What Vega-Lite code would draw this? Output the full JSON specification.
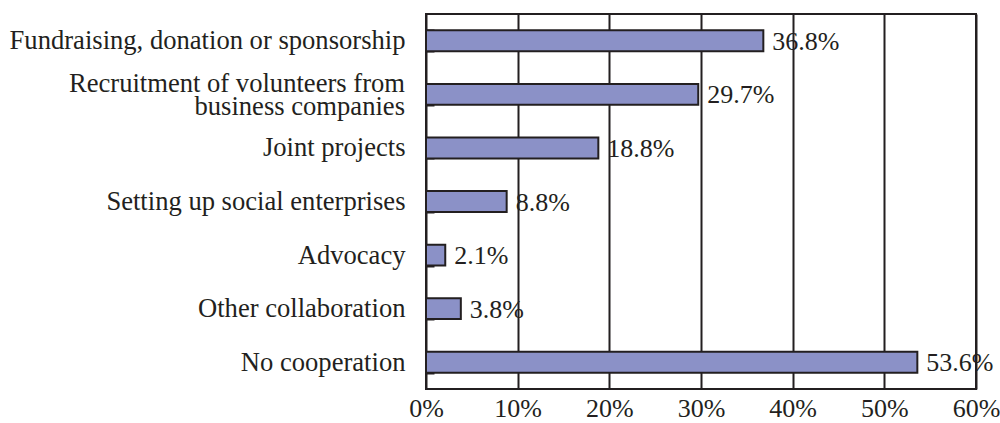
{
  "$schema": "https://vega.github.io/schema/vega-lite/v6.json",
  "width": 550,
  "height": 375,
  "autosize": {"type": "none"},
  "padding": {"left": 426, "top": 14, "right": 24, "bottom": 34},
  "background": "white",
  "config": {
    "view": {"stroke": "#231f20", "strokeWidth": 2},
    "font": "Liberation Serif"
  },
  "data": {
    "values": [
      {"category": "Fundraising, donation or sponsorship", "value": 0.368},
      {"category": "Recruitment of volunteers from|business companies", "value": 0.297},
      {"category": "Joint projects", "value": 0.188},
      {"category": "Setting up social enterprises", "value": 0.088},
      {"category": "Advocacy", "value": 0.021},
      {"category": "Other collaboration", "value": 0.038},
      {"category": "No cooperation", "value": 0.536}
    ]
  },
  "encoding": {
    "y": {
      "field": "category",
      "type": "nominal",
      "sort": null,
      "scale": {"paddingInner": 0.61, "paddingOuter": 0.305},
      "axis": {
        "title": null,
        "labelExpr": "indexof(datum.label, '|') >= 0 ? '' : datum.label",
        "labelFont": "Liberation Serif",
        "labelFontSize": 26.6,
        "labelColor": "#231f20",
        "labelPadding": 29,
        "labelLimit": 500,
        "tickBand": "extent",
        "tickSize": -8,
        "tickColor": "#231f20",
        "tickWidth": 2,
        "domain": false,
        "grid": false
      }
    },
    "x": {
      "field": "value",
      "type": "quantitative",
      "scale": {"domain": [0, 0.6], "nice": false},
      "axis": {
        "title": null,
        "values": [0, 0.1, 0.2, 0.3, 0.4, 0.5, 0.6],
        "format": ".0%",
        "labelFont": "Liberation Serif",
        "labelFontSize": 26,
        "labelColor": "#231f20",
        "labelPadding": 6,
        "labelFlush": false,
        "labelOverlap": false,
        "ticks": false,
        "domain": false,
        "grid": true,
        "gridColor": "#231f20",
        "gridWidth": 2,
        "gridOpacity": 1
      }
    }
  },
  "layer": [
    {
      "mark": {"type": "bar", "fill": "#8b91c7", "stroke": "#231f20", "strokeWidth": 2}
    },
    {
      "mark": {"type": "text", "align": "left", "baseline": "middle", "dx": 9, "dy": 1, "font": "Liberation Serif", "fontSize": 26, "color": "#231f20"},
      "encoding": {
        "text": {"field": "value", "type": "quantitative", "format": ".1%"}
      }
    },
    {
      "transform": [{"filter": "indexof(datum.category, '|') >= 0"}],
      "mark": {"type": "text", "align": "right", "baseline": "middle", "dx": -21, "dy": -10, "lineBreak": "|", "lineHeight": 23, "font": "Liberation Serif", "fontSize": 26.6, "color": "#231f20"},
      "encoding": {
        "x": {"datum": 0},
        "text": {"field": "category"}
      }
    }
  ]
}
